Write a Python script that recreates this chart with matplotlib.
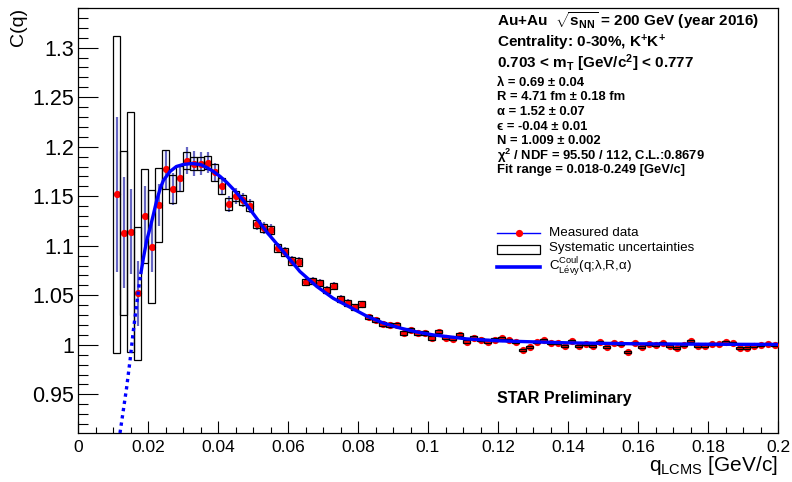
import numpy as np
import matplotlib
matplotlib.use("Agg")
import matplotlib.pyplot as plt
from matplotlib.lines import Line2D
from matplotlib.patches import Rectangle

plt.rcParams['font.family'] = ['Liberation Sans', 'DejaVu Sans']
plt.rcParams['mathtext.fontset'] = 'custom'
plt.rcParams['mathtext.rm'] = 'Liberation Sans'
plt.rcParams['mathtext.it'] = 'Liberation Sans:italic'
plt.rcParams['mathtext.bf'] = 'Liberation Sans:bold'

# ---------------- data ----------------
q = [0.011, 0.013, 0.015, 0.017, 0.019, 0.021, 0.023, 0.025, 0.027, 0.029,
     0.031, 0.033, 0.035, 0.037, 0.039, 0.041, 0.043, 0.045, 0.047, 0.049,
     0.051, 0.053, 0.055, 0.057, 0.059, 0.061, 0.063, 0.065, 0.067, 0.069,
     0.071, 0.073, 0.075, 0.077, 0.079, 0.081, 0.083, 0.085, 0.087, 0.089,
     0.091, 0.093, 0.095, 0.097, 0.099, 0.101, 0.103, 0.105, 0.107, 0.109,
     0.111, 0.113, 0.115, 0.117, 0.119, 0.121, 0.123, 0.125, 0.127, 0.129,
     0.131, 0.133, 0.135, 0.137, 0.139, 0.141, 0.143, 0.145, 0.147, 0.149,
     0.151, 0.153, 0.155, 0.157, 0.159, 0.161, 0.163, 0.165, 0.167, 0.169,
     0.171, 0.173, 0.175, 0.177, 0.179, 0.181, 0.183, 0.185, 0.187, 0.189,
     0.191, 0.193, 0.195, 0.197, 0.199]

C = [1.152, 1.113, 1.114, 1.052, 1.130, 1.099, 1.141, 1.177, 1.157, 1.168,
     1.186, 1.183, 1.183, 1.184, 1.174, 1.160, 1.142, 1.150, 1.146, 1.140,
     1.122, 1.118, 1.116, 1.098, 1.094, 1.085, 1.084, 1.063, 1.064, 1.062,
     1.055, 1.059, 1.046, 1.042, 1.038, 1.041, 1.028, 1.025, 1.021, 1.020,
     1.020, 1.012, 1.015, 1.012, 1.012, 1.007, 1.013, 1.007, 1.006, 1.010,
     1.003, 1.007, 1.005, 1.003, 1.005, 1.007, 1.005, 1.003, 0.995, 0.998,
     1.003, 1.005, 1.002, 1.002, 0.999, 1.004, 0.999, 1.001, 0.999, 1.003,
     0.998, 1.002, 1.001, 0.993, 1.002, 0.998, 1.001, 1.000, 1.002, 0.999,
     0.997, 1.000, 1.004, 0.999, 0.999, 1.001, 1.001, 1.003, 1.002, 0.997,
     0.997, 0.999, 1.000, 1.001, 1.000]

stat_err = [0.078, 0.056, 0.043, 0.033, 0.030, 0.025, 0.021, 0.020, 0.016, 0.014,
            0.014, 0.013, 0.012, 0.011, 0.010, 0.009, 0.008, 0.008, 0.007, 0.007,
            0.006, 0.006, 0.006, 0.005, 0.005, 0.005, 0.005, 0.004, 0.004, 0.004,
            0.004, 0.004, 0.004, 0.004, 0.003, 0.003, 0.003, 0.003, 0.003, 0.003,
            0.003, 0.003, 0.003, 0.003, 0.003, 0.003, 0.003, 0.003, 0.003, 0.003,
            0.003, 0.003, 0.003, 0.003, 0.003, 0.002, 0.002, 0.002, 0.002, 0.002,
            0.002, 0.002, 0.002, 0.002, 0.002, 0.002, 0.002, 0.002, 0.002, 0.002,
            0.002, 0.002, 0.002, 0.002, 0.002, 0.002, 0.002, 0.002, 0.002, 0.002,
            0.002, 0.002, 0.002, 0.002, 0.002, 0.002, 0.002, 0.002, 0.002, 0.002,
            0.002, 0.002, 0.002, 0.002, 0.002]

sys_err = [0.160, 0.083, 0.121, 0.067, 0.047, 0.057, 0.037, 0.020, 0.014, 0.013,
           0.009, 0.007, 0.007, 0.007, 0.009, 0.008, 0.006, 0.005, 0.005, 0.005,
           0.004, 0.004, 0.004, 0.004, 0.004, 0.004, 0.004, 0.003, 0.003, 0.003,
           0.003, 0.003, 0.003, 0.003, 0.003, 0.003, 0.002, 0.002, 0.002, 0.002,
           0.002, 0.002, 0.002, 0.002, 0.002, 0.002, 0.0015, 0.0015, 0.0015, 0.0015,
           0.0015, 0.0015, 0.0015, 0.0015, 0.0015, 0.001, 0.001, 0.001, 0.001, 0.001,
           0.001, 0.001, 0.001, 0.001, 0.001, 0.001, 0.001, 0.001, 0.001, 0.001,
           0.001, 0.001, 0.001, 0.001, 0.001, 0.001, 0.001, 0.001, 0.001, 0.001,
           0.001, 0.001, 0.001, 0.001, 0.001, 0.001, 0.001, 0.001, 0.001, 0.001,
           0.001, 0.001, 0.001, 0.001, 0.001]

bin_width = 0.002

# fit curve (dotted below the fit range, solid inside)
fit_q_out = [0.0120, 0.01295, 0.0139, 0.01486, 0.0158, 0.01677, 0.01771, 0.0180]
fit_C_out = [0.911, 0.934, 0.957, 0.984, 1.014, 1.041, 1.067, 1.073]
fit_q_in = [0.0180, 0.01866, 0.0196, 0.0206, 0.0215, 0.0225, 0.0235, 0.0244,
            0.0263, 0.0281, 0.0300, 0.0325, 0.0350, 0.0368, 0.0387, 0.0406,
            0.0425, 0.0444, 0.0472, 0.0491, 0.0539, 0.0587, 0.0634, 0.0682,
            0.0729, 0.0777, 0.0825, 0.0872, 0.0920, 0.0968, 0.1015, 0.1063,
            0.1110, 0.1158, 0.1206, 0.130, 0.140, 0.150, 0.160, 0.170, 0.180,
            0.190, 0.200]
fit_C_in = [1.073, 1.087, 1.105, 1.118, 1.131, 1.146, 1.158, 1.166,
            1.175, 1.180, 1.182, 1.183, 1.182, 1.179, 1.175, 1.170,
            1.164, 1.157, 1.146, 1.137, 1.114, 1.094, 1.074, 1.059,
            1.047, 1.038, 1.029, 1.022, 1.017, 1.013, 1.010, 1.008,
            1.006, 1.005, 1.004, 1.003, 1.002, 1.0015, 1.001, 1.0008, 1.0006,
            1.0005, 1.0004]

x_ticks = [0, 0.02, 0.04, 0.06, 0.08, 0.1, 0.12, 0.14, 0.16, 0.18, 0.2]
x_tick_labels = ['0', '0.02', '0.04', '0.06', '0.08', '0.1', '0.12', '0.14', '0.16', '0.18', '0.2']
y_ticks = [0.95, 1.0, 1.05, 1.1, 1.15, 1.2, 1.25, 1.3]
y_tick_labels = ['0.95', '1', '1.05', '1.1', '1.15', '1.2', '1.25', '1.3']

# ---------------- figure ----------------
W, H = 792, 482
fig = plt.figure(figsize=(W / 100, H / 100), dpi=100)
ax = fig.add_axes([78 / W, 49 / H, 700 / W, 425 / H])

qa = np.array(q)
Ca = np.array(C)
sa = np.array(sys_err)

# statistical error bars
ax.errorbar(qa, Ca, yerr=stat_err, fmt='none', ecolor='#6767c4', elinewidth=1.6,
            capsize=0, zorder=2)
# data points
ax.plot(qa, Ca, 'o', color='#ff0000', markersize=5.2, markeredgewidth=0, zorder=3)
# systematic boxes
for qi, ci, si in zip(qa, Ca, sa):
    ax.add_patch(Rectangle((qi - bin_width / 2, ci - si), bin_width, 2 * si,
                           facecolor='none', edgecolor='black', linewidth=0.9,
                           zorder=4))
# fit
ax.plot(fit_q_out, fit_C_out, color='#0000ff', lw=2.4, ls=(0, (1.0, 1.2)), zorder=5)
ax.plot(fit_q_in, fit_C_in, color='#0000ff', lw=2.4, zorder=5,
        solid_joinstyle='round')

ax.set_xlim(0, 0.2)
ax.set_ylim(0.911, 1.340)
ax.set_xticks(x_ticks)
ax.set_xticklabels(x_tick_labels)
ax.set_yticks(y_ticks)
ax.set_yticklabels(y_tick_labels)
ax.set_xticks(np.arange(0, 0.2001, 0.005), minor=True)
ax.set_yticks(np.arange(0.92, 1.3401, 0.01), minor=True)
ax.tick_params(axis='x', which='major', direction='in', length=8.6, width=0.8,
               labelsize=12.5, pad=5)
ax.tick_params(axis='x', which='minor', direction='in', length=4.3, width=0.8)
ax.tick_params(axis='y', which='major', direction='in', length=14.4, width=0.8,
               labelsize=15.5, pad=3)
ax.tick_params(axis='y', which='minor', direction='in', length=7.2, width=0.8)
for sp in ax.spines.values():
    sp.set_linewidth(0.9)


def fx(x):
    return x / W


def fy(y):
    return 1 - y / H


# axis titles
fig.text(fx(778), fy(471), r'q$_{\mathrm{LCMS}}$ [GeV/c]', ha='right', va='baseline',
         fontsize=15)
fig.text(fx(19), fy(8), 'C(q)', rotation=90, ha='center', va='top', fontsize=14)

# info text
fig.text(fx(497), fy(21), r'Au+Au  $\mathbf{\sqrt{s_{NN}}}$ = 200 GeV (year 2016)',
         ha='left', va='center', fontsize=11, fontweight='bold')
fig.text(fx(497), fy(43), r'Centrality: 0-30%, K$^{\mathbf{+}}$K$^{\mathbf{+}}$',
         ha='left', va='center', fontsize=11, fontweight='bold')
fig.text(fx(497), fy(63), r'0.703 < m$_{\mathbf{T}}$ [GeV/c$^{\mathbf{2}}$] < 0.777',
         ha='left', va='center', fontsize=11, fontweight='bold')
small_lines = ['λ = 0.69 ± 0.04',
               'R = 4.71 fm ± 0.18 fm',
               'α = 1.52 ± 0.07',
               'ϵ = -0.04 ± 0.01',
               'N = 1.009 ± 0.002',
               r'χ$^{\mathbf{2}}$ / NDF = 95.50 / 112, C.L.:0.8679',
               'Fit range = 0.018-0.249 [GeV/c]']
small_y = [83, 97, 112, 127, 141, 156, 170]
for t, yy in zip(small_lines, small_y):
    fig.text(fx(497), fy(yy), t, ha='left', va='center', fontsize=9.4,
             fontweight='bold')

fig.text(fx(497), fy(398), 'STAR Preliminary', ha='left', va='center',
         fontsize=11.5, fontweight='bold')

# legend
fig.add_artist(Line2D([fx(497), fx(540)], [fy(232.5), fy(232.5)], color='#0000ff',
                      lw=1.0, transform=fig.transFigure))
fig.add_artist(Line2D([fx(519)], [fy(232.5)], marker='o', color='#ff0000',
                      markersize=5.2, markeredgewidth=0, transform=fig.transFigure))
fig.add_artist(Rectangle((fx(497), fy(254)), fx(43), 9 / H, facecolor='none',
                         edgecolor='black', lw=0.9, transform=fig.transFigure))
fig.add_artist(Line2D([fx(497), fx(540)], [fy(266.5), fy(266.5)], color='#0000ff',
                      lw=2.6, transform=fig.transFigure))
fig.text(fx(549), fy(232.5), 'Measured data', ha='left', va='center', fontsize=9.6)
fig.text(fx(549), fy(248.5), 'Systematic uncertainties', ha='left', va='center',
         fontsize=9.6)
fig.text(fx(549), fy(266.5),
         r'C$^{\mathrm{Coul}}_{\mathrm{L\acute{e}vy}}$(q;λ,R,α)',
         ha='left', va='center', fontsize=9.6)

fig.savefig('out.png', dpi=100)
